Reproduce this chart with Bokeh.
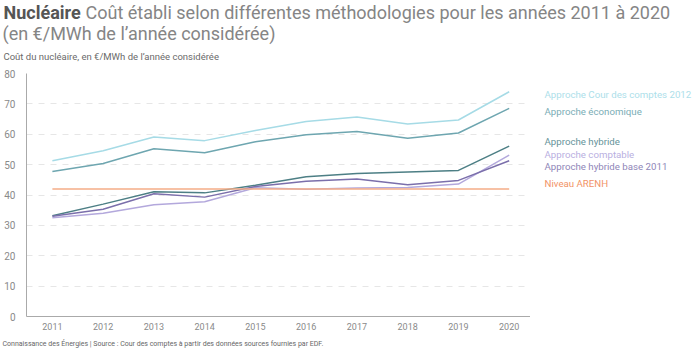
from bokeh.plotting import figure
from bokeh.models import FixedTicker, Range1d
from bokeh.layouts import column, row
from bokeh.core.properties import value
from bokeh.embed import file_html
from bokeh.resources import INLINE

years = [2011, 2012, 2013, 2014, 2015, 2016, 2017, 2018, 2019, 2020]
cour_des_comptes = [51.3, 54.6, 59.1, 57.9, 61.2, 64.2, 65.7, 63.4, 64.7, 74.0]
economique = [47.7, 50.4, 55.2, 53.9, 57.5, 59.8, 60.9, 58.7, 60.4, 68.5]
hybride = [33.2, 37.0, 41.1, 40.7, 43.2, 46.0, 47.1, 47.6, 48.1, 56.1]
comptable = [32.5, 34.0, 36.8, 37.8, 42.4, 41.9, 42.3, 42.5, 43.6, 53.1]
hybride_2011 = [33.0, 35.3, 40.4, 39.3, 42.8, 44.5, 45.3, 43.4, 44.8, 51.3]
arenh = [42, 42, 42, 42, 42, 42, 42, 42, 42, 42]

series_names = ["Approche Cour des comptes 2012", "Approche économique", "Approche hybride",
                "Approche comptable", "Approche hybride base 2011", "Niveau ARENH"]
series_values = [cour_des_comptes, economique, hybride, comptable, hybride_2011, arenh]
line_colors = ["#a6dbe6", "#6ea6b0", "#4d7f85", "#b3a8dc", "#7b6fab", "#f5ad88"]
label_colors = ["#ade0ea", "#7aadb6", "#66939a", "#b9afdf", "#8f86b8", "#f29366"]
y_ticks = [0, 10, 20, 30, 40, 50, 60, 70, 80]


def blank(w, h, x0, x1, y0, y1):
    f = figure(width=w, height=h, output_backend="svg", toolbar_location=None,
               x_range=Range1d(x0, x1), y_range=Range1d(y1, y0),
               x_axis_location=None, y_axis_location=None, min_border=0)
    f.grid.visible = False
    f.outline_line_color = None
    f.background_fill_color = "white"
    f.border_fill_color = "white"
    return f


def txt(f, text, px, py, size, color, style="normal", font="Roboto"):
    f.text(x=[px], y=[py], text=[text], text_font_size=size, text_color=color,
           text_font_style=style, text_font=value(font),
           text_baseline="middle", text_align="left")


# --- title block (canvas y 0..64)
top = blank(700, 64, 0, 700, 0, 64)
txt(top, "Nucléaire", 3, 12, "18px", "#555555", style="bold")
txt(top, "Coût établi selon différentes méthodologies pour les années 2011 à 2020", 85, 12, "18px", "#858585")
txt(top, "(en €/MWh de l’année considérée)", 2, 33, "18px", "#858585")
txt(top, "Coût du nucléaire, en €/MWh de l’année considérée", 3, 56, "9.5px", "#6a6a6a")

# --- main chart (canvas y 64..336)
p = figure(width=530, height=272, output_backend="svg", toolbar_location=None,
           x_range=Range1d(2010.49, 2020.42), y_range=Range1d(0, 80),
           min_border_left=26, min_border_right=0, min_border_top=9, min_border_bottom=20)
p.outline_line_color = None
p.background_fill_color = "white"
p.border_fill_color = "white"

for vals, col in zip(series_values, line_colors):
    p.line(years, vals, line_color=col, line_width=1.5)

p.xgrid.grid_line_color = None
p.ygrid.grid_line_color = "#e6e6e6"
p.ygrid.grid_line_dash = "6 6"
p.ygrid.ticker = FixedTicker(ticks=y_ticks)

p.xaxis.ticker = FixedTicker(ticks=years)
p.yaxis.ticker = FixedTicker(ticks=y_ticks)
for ax in (p.xaxis[0], p.yaxis[0]):
    ax.axis_line_color = "#aaaaaa"
    ax.major_tick_line_color = None
    ax.minor_tick_line_color = None
    ax.major_tick_out = 0
    ax.major_tick_in = 0
    ax.minor_tick_out = 0
    ax.minor_tick_in = 0
    ax.major_label_text_color = "#8a8a8a"
    ax.major_label_text_font = "Roboto"
p.xaxis.major_label_text_font_size = "9px"
p.yaxis.major_label_text_font_size = "10px"
p.xaxis.major_label_standoff = 6
p.yaxis.major_label_standoff = 11

# --- right labels (canvas x 530..700, y 64..336)
side = blank(170, 272, 530, 700, 64, 336)
label_y = [87, 106, 140, 155, 168, 187]
for name, ly, col in zip(series_names, label_y, label_colors):
    txt(side, name, 544, ly, "9.7px", col)

# --- footer (canvas y 336..350)
foot = blank(700, 14, 0, 700, 336, 350)
txt(foot, "Connaissance des Énergies | Source : Cour des comptes à partir des données sources fournies par EDF.",
    2, 343, "7px", "#666666")

layout = column(top, row(p, side), foot)
open("out.html", "w").write(file_html(layout, INLINE))
